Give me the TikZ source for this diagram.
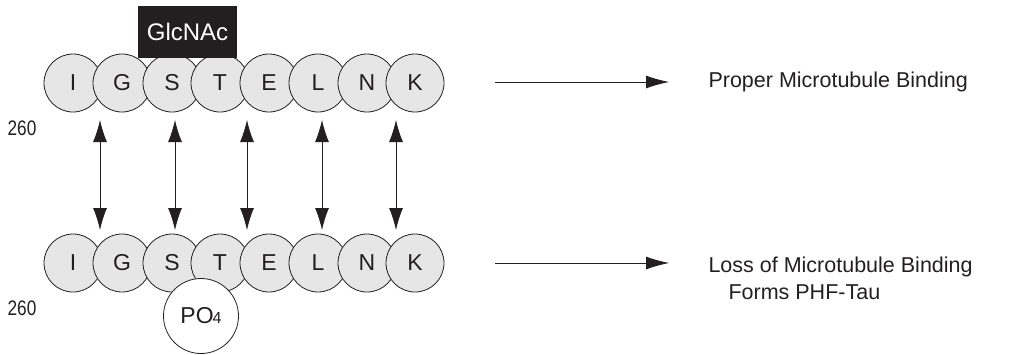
\documentclass[tikz,border=0pt]{standalone}
\usepackage{fontspec}
\setmainfont{Liberation Sans}
\usetikzlibrary{arrows.meta}
\definecolor{ink}{HTML}{231F20}
\definecolor{residue}{HTML}{E6E6E7}
\tikzset{
  aa/.style={circle, draw=ink, line width=0.8pt, fill=residue, minimum size=58pt,
             inner sep=0pt, font=\fontsize{23}{23}\selectfont, text=ink},
  seqnum/.style={font=\fontsize{21}{21}\selectfont, text=ink},
  exchange/.style={ink, line width=0.8pt, {Latex[length=22pt,width=14pt]}-{Latex[length=22pt,width=14pt]}},
  result/.style={ink, line width=0.8pt, -{Latex[length=23pt,width=13pt]}},
  outcome/.style={font=\fontsize{21.5}{27}\selectfont, text=ink, anchor=west, align=left}
}
\begin{document}
\begin{tikzpicture}[x=1pt,y=-1pt]
\useasboundingbox (0,0) rectangle (1026,354);

% upper strand (O-GlcNAc modified)
\foreach \r/\x [count=\i] in {I/73,G/122,S/172,T/220,E/269,L/318,N/367,K/415}
  \node[aa] (u\i) at (\x,83) {\r};
\node[fill=ink, text=white, minimum width=99pt, minimum height=52pt, inner sep=0pt,
      font=\fontsize{24}{24}\selectfont] (glc) at (187.5,32) {GlcNAc};
\node[seqnum] (n1) at (22,128) {\scalebox{0.82}[1]{260}};

% lower strand (phosphorylated)
\foreach \r/\x [count=\i] in {I/73,G/122,S/172,T/220,E/269,L/318,N/367,K/415}
  \node[aa] (d\i) at (\x,263) {\r};
\node[circle, draw=ink, line width=0.8pt, fill=white, minimum size=75pt, inner sep=0pt,
      font=\fontsize{23}{23}\selectfont, text=ink] (po) at (201,316)
      {PO\kern-1pt{\fontsize{16}{16}\selectfont 4}};
\node[seqnum] (n2) at (22,308) {\scalebox{0.82}[1]{260}};

% exchange arrows between the strands
\foreach \x [count=\i] in {100,175,247,322,396} {
  \coordinate (a\i) at (\x,120);
  \coordinate (b\i) at (\x,230);
  \draw[exchange] (a\i) -- (b\i);
}

% outcomes
\coordinate (r1s) at (495,82);
\coordinate (r1e) at (669,82);
\node[outcome] (o1) at (705,82) {Proper Microtubule Binding};
\draw[result] (r1s) -- (r1e);

\coordinate (r2s) at (495,263);
\coordinate (r2e) at (669,263);
\node[outcome] (o2) at (705,278) {Loss of Microtubule Binding\\\hspace{20pt}Forms PHF-Tau};
\draw[result] (r2s) -- (r2e);
\end{tikzpicture}
\end{document}
